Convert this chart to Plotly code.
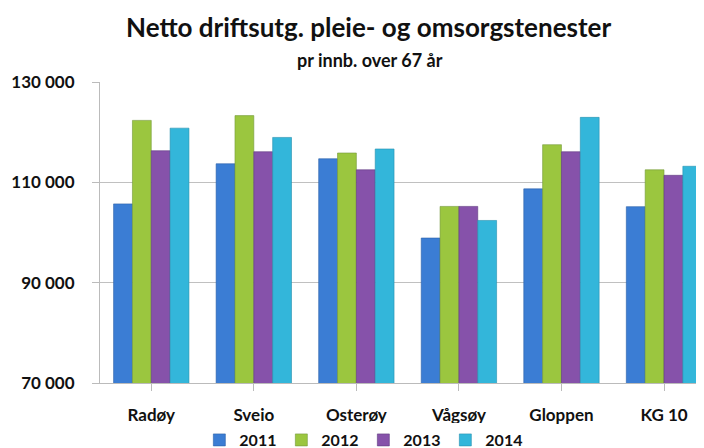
import plotly.graph_objects as go

categories = ["Radøy", "Sveio", "Osterøy", "Vågsøy", "Gloppen", "KG 10"]
years = ["2011", "2012", "2013", "2014"]
v2011 = [105700, 113700, 114700, 98900, 108700, 105150]
v2012 = [122350, 123300, 115850, 105200, 117500, 112500]
v2013 = [116300, 116100, 112500, 105200, 116100, 111400]
v2014 = [120800, 118950, 116650, 102400, 122950, 113200]
series = [v2011, v2012, v2013, v2014]
colors = ["#3B7DD4", "#9BC63F", "#8652AA", "#33B6DA"]
lines = ["#2A5FA8", "#74983A", "#5F3A80", "#2690AE"]
tickvals = [70000, 90000, 110000, 130000]
ticktext = ["70 000", "90 000", "110 000", "130 000"]

FONT = "Lato"
# page has an 8px body margin: figure is 696x440 drawn at (8, 8)
PLOT_TOP, PLOT_BOTTOM = 82, 383  # page pixels
PH = PLOT_BOTTOM - PLOT_TOP


def py(p):
    return (PLOT_BOTTOM - p) / PH


fig = go.Figure()
for y, vals, c, lc in zip(years, series, colors, lines):
    fig.add_trace(go.Bar(
        name=y, x=list(range(len(categories))), y=vals,
        marker=dict(color=c, line=dict(color=lc, width=0.6)),
        legendwidth=37,
    ))

fig.update_layout(
    width=696, height=440,
    margin=dict(l=92, r=0, t=74, b=65, autoexpand=False),
    paper_bgcolor="white", plot_bgcolor="white",
    barmode="group", bargap=0.265, bargroupgap=0,
    font=dict(family=FONT, color="#111111"),
    showlegend=True,
    legend=dict(orientation="h", x=0.436, xanchor="center", y=py(440), yanchor="middle",
                font=dict(family=FONT, size=16, color="#111111", weight="bold"),
                itemwidth=30, entrywidthmode="pixels", traceorder="normal"),
    annotations=[
        dict(text="<b>Netto driftsutg. pleie- og omsorgstenester</b>", xref="paper", yref="paper",
             x=(368 - 100) / 604, y=py(27), xanchor="center", yanchor="middle", showarrow=False,
             font=dict(family=FONT, size=26, color="#111111")),
        dict(text="<b>pr innb. over 67 år</b>", xref="paper", yref="paper",
             x=(370 - 100) / 604, y=py(60), xanchor="center", yanchor="middle", showarrow=False,
             font=dict(family=FONT, size=18, color="#111111")),
    ],
)
fig.update_xaxes(
    tickmode="array", tickvals=list(range(len(categories))), ticktext=categories,
    range=[-0.5, 5.39], showgrid=False, showline=True, linecolor="#bbbbbb", linewidth=1,
    ticks="outside", ticklen=7, tickcolor="#bbbbbb", tickson="boundaries",
    tickfont=dict(family=FONT, size=17, color="#111111", weight="bold"),
    ticklabelstandoff=10, zeroline=False, automargin=False,
)
fig.update_yaxes(
    range=[70000, 130000], tickvals=tickvals, ticktext=ticktext,
    showgrid=True, gridcolor="#c0c0c0", gridwidth=1,
    showline=True, linecolor="#bbbbbb", linewidth=1,
    ticks="outside", ticklen=7, tickcolor="#bbbbbb",
    tickfont=dict(family=FONT, size=17, color="#111111", weight="bold"),
    ticklabelstandoff=14, zeroline=False, automargin=False,
)
fig.write_html("out.html")
